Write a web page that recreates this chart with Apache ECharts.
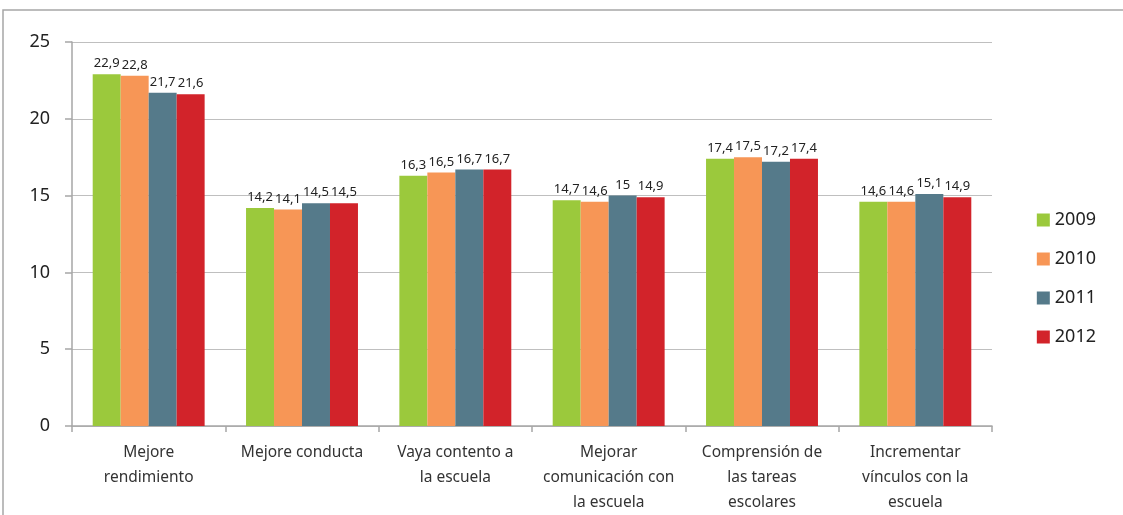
<!DOCTYPE html>
<html><head><meta charset="utf-8">
<script src="https://cdn.jsdelivr.net/npm/echarts@6/dist/echarts.min.js"></script>
<style>html,body{margin:0;padding:0;background:#fff}#c{width:1123px;height:515px}</style>
</head><body><div id="c"></div>
<script>
const categories = ["Mejore\nrendimiento","Mejore conducta","Vaya contento a\nla escuela","Mejorar\ncomunicación con\nla escuela","Comprensión de\nlas tareas\nescolares","Incrementar\nvínculos con la\nescuela"];
const seriesNames = ["2009","2010","2011","2012"];
const v2009 = [22.9,14.2,16.3,14.7,17.4,14.6];
const v2010 = [22.8,14.1,16.5,14.6,17.5,14.6];
const v2011 = [21.7,14.5,16.7,15,17.2,15.1];
const v2012 = [21.6,14.5,16.7,14.9,17.4,14.9];
const colors = ["#9BC93C","#F79656","#557A8A","#D2232A"];
const values = [v2009,v2010,v2011,v2012];
const font = "Noto Sans";
const chart = echarts.init(document.getElementById('c'));
chart.setOption({
  animation:false,
  textStyle:{fontFamily:font},
  graphic:[{type:'polyline',shape:{points:[[3,515],[3,10],[1123,10]]},style:{stroke:'#a6a6a6',lineWidth:1.5,fill:null}}],
  grid:{left:72,right:131,top:42,bottom:88},
  legend:{orient:'vertical',right:22,top:206,itemWidth:13,itemHeight:13,itemGap:21,icon:'rect',
    textStyle:{fontSize:18,color:'#222',fontFamily:font},data:seriesNames},
  xAxis:{type:'category',data:categories,
    axisLine:{lineStyle:{color:'#a6a6a6',width:1.5}},
    axisTick:{show:true,length:6,lineStyle:{color:'#a6a6a6',width:1.5}},
    axisLabel:{fontSize:15.5,color:'#333',lineHeight:25,margin:14,interval:0}},
  yAxis:{type:'value',min:0,max:25,interval:5,
    axisLine:{show:true,lineStyle:{color:'#a6a6a6',width:1.5}},
    axisTick:{show:true,length:7,lineStyle:{color:'#a6a6a6',width:1.5}},
    splitLine:{lineStyle:{color:'#bfbfbf',width:1}},
    axisLabel:{fontSize:18,color:'#222',margin:22}},
  series:values.map((d,i)=>({name:seriesNames[i],type:'bar',data:d,barGap:'0%',barCategoryGap:'27%',
    itemStyle:{color:colors[i]},
    label:{show:true,position:'top',fontSize:13,color:'#222',distance:4,
      formatter:p=>String(p.value).replace('.',',')}}))
});
</script></body></html>
